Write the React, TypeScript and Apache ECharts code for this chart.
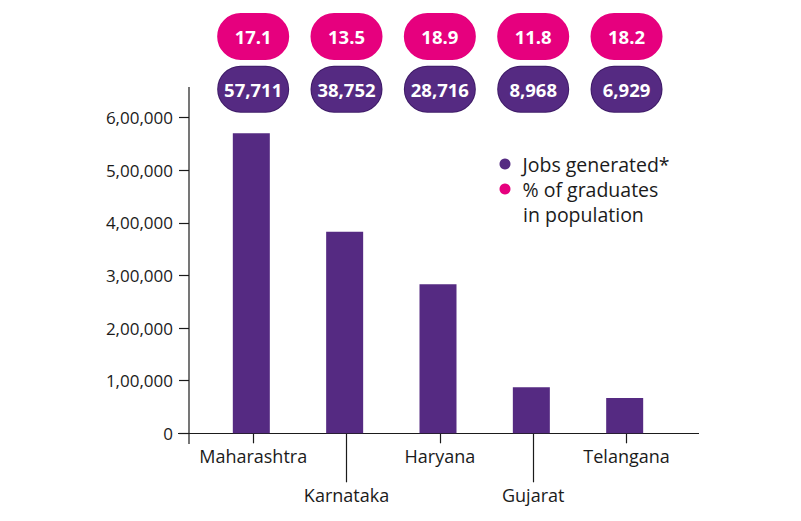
import React, { useEffect, useRef } from "react";
import * as echarts from "echarts";

const states = ["Maharashtra", "Karnataka", "Haryana", "Gujarat", "Telangana"];
const jobsBar = [570300, 383300, 283300, 87500, 67100];
const jobsLabels = ["57,711", "38,752", "28,716", "8,968", "6,929"];
const gradPct = ["17.1", "13.5", "18.9", "11.8", "18.2"];
const yTicks = { min: 0, max: 600000, interval: 100000 };
const legendNames = ["Jobs generated*", "% of graduates"];
const legendSecondLine = "in population";

const PURPLE = "#552a82";
const PINK = "#e6007e";
const INK = "#1b1b1b";
const FONT = "'Open Sans', sans-serif";

export default function App() {
  const ref = useRef<HTMLDivElement>(null);
  useEffect(() => {
    const chart = echarts.init(ref.current!, null, { renderer: "svg" });
    const pillLabel = (bg: string, border: string, margin: number) => ({
      show: true,
      interval: 0,
      margin,
      color: "#fff",
      fontFamily: FONT,
      fontWeight: 700,
      fontSize: 18.5,
      backgroundColor: bg,
      borderColor: border,
      borderWidth: 1,
      borderRadius: 23,
      width: 70,
      height: 45,
      lineHeight: 45,
      align: "center",
    });
    const grid = { left: 206.5, right: 127.8, top: 117.7, bottom: 87.7 };
    chart.setOption({
      animation: false,
      backgroundColor: "#fff",
      textStyle: { fontFamily: FONT },
      grid,
      xAxis: [
        {
          type: "category",
          data: states,
          position: "bottom",
          axisLine: { show: false },
          axisTick: {
            show: true,
            alignWithLabel: true,
            length: 10,
            interval: (i: number) => i % 2 === 0,
            lineStyle: { color: INK, width: 1.2 },
          },
          axisLabel: {
            interval: (i: number) => i % 2 === 0,
            margin: 14,
            color: INK,
            fontSize: 18,
            fontFamily: FONT,
          },
        },
        {
          type: "category",
          data: states,
          position: "bottom",
          axisLine: { show: false },
          axisTick: {
            show: true,
            alignWithLabel: true,
            length: 49,
            interval: (i: number) => i % 2 === 1,
            lineStyle: { color: INK, width: 1.2 },
          },
          axisLabel: {
            interval: (i: number) => i % 2 === 1,
            margin: 53,
            color: INK,
            fontSize: 18,
            fontFamily: FONT,
          },
        },
        {
          type: "category",
          data: jobsLabels,
          position: "top",
          axisLine: { show: false },
          axisTick: { show: false },
          axisLabel: pillLabel(PURPLE, "#3f1c68", 6),
        },
        {
          type: "category",
          data: gradPct,
          position: "top",
          axisLine: { show: false },
          axisTick: { show: false },
          axisLabel: pillLabel(PINK, PINK, 58.7),
        },
      ],
      yAxis: {
        type: "value",
        min: yTicks.min,
        max: yTicks.max,
        interval: yTicks.interval,
        offset: 17.5,
        axisLine: { show: false },
        axisTick: { show: true, length: 10, lineStyle: { color: INK, width: 1.2 } },
        splitLine: { show: false },
        axisLabel: {
          margin: 16,
          color: INK,
          fontSize: 17,
          fontFamily: FONT,
          formatter: (v: number) => v.toLocaleString("en-IN"),
        },
      },
      legend: {
        orient: "vertical",
        left: 499.5,
        top: 151.5,
        padding: 0,
        itemGap: 0,
        itemWidth: 11,
        itemHeight: 11,
        icon: "circle",
        selectedMode: false,
        textStyle: { color: INK, fontSize: 19.5, lineHeight: 25, fontFamily: FONT, padding: [0, 0, 0, 7] },
        data: legendNames,
      },
      series: [
        {
          name: legendNames[0],
          type: "bar",
          data: jobsBar,
          barWidth: 37,
          itemStyle: { color: PURPLE },
        },
        {
          name: legendNames[1],
          type: "bar",
          data: [],
          itemStyle: { color: PINK },
        },
      ],
      graphic: [
        {
          type: "line",
          shape: { x1: 189, y1: 87, x2: 189, y2: 444 },
          style: { stroke: INK, lineWidth: 1.2 },
        },
        {
          type: "line",
          shape: { x1: 178, y1: 433.5, x2: 699, y2: 433.5 },
          style: { stroke: INK, lineWidth: 1.2 },
        },
        {
          type: "text",
          x: 523,
          y: 214,
          style: {
            text: legendSecondLine,
            fill: INK,
            font: `19.5px ${FONT}`,
            verticalAlign: "middle",
            align: "left",
          },
        },
      ],
    });
    return () => chart.dispose();
  }, []);
  return (
    <div
      ref={ref}
      style={{ position: "fixed", left: 0, top: 0, width: 801, height: 521, background: "#fff" }}
    />
  );
}
